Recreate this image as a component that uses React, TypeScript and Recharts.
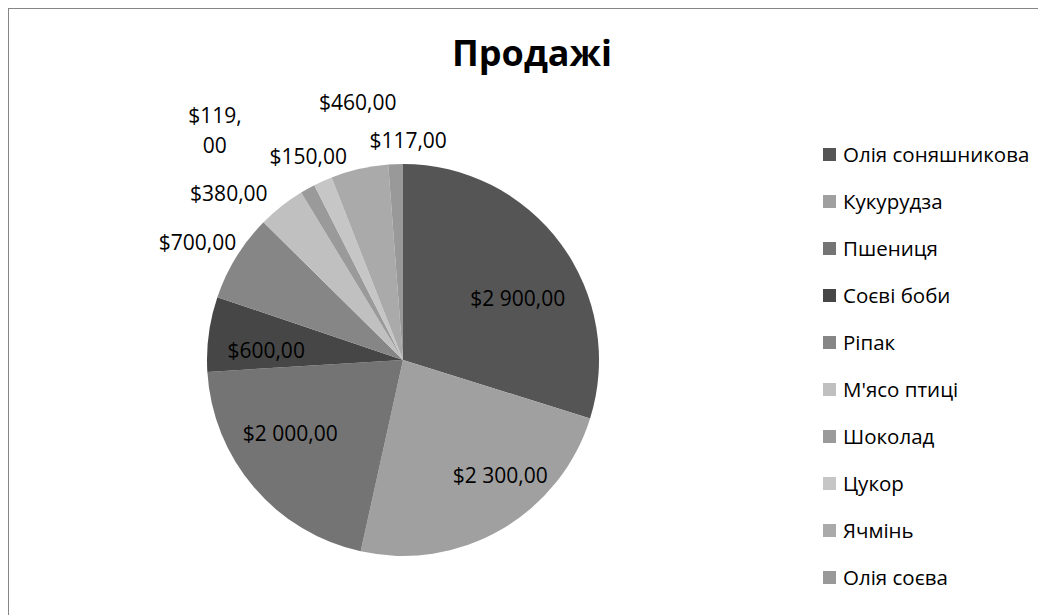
import React from 'react';
import { PieChart, Pie, Cell, Legend } from 'recharts';

const categories = [
  'Олія соняшникова',
  'Кукурудза',
  'Пшениця',
  'Соєві боби',
  'Ріпак',
  "М'ясо птиці",
  'Шоколад',
  'Цукор',
  'Ячмінь',
  'Олія соєва',
];
const sales = [2900, 2300, 2000, 600, 700, 380, 119, 150, 460, 117];
const colors = ['#555555', '#a0a0a0', '#747474', '#464646', '#868686', '#c0c0c0', '#9a9a9a', '#c6c6c6', '#aaaaaa', '#999999'];

const data = categories.map((name, i) => ({ name, value: sales[i] }));

// label placement relative to each slice: [angle shift (deg, clockwise), radius factor]
const labelLayout: [number, number][] = [
  [8, 0.665],
  [-10, 0.77],
  [7.6, 0.685],
  [-3.5, 0.7],
  [-1.7, 1.21],
  [-7.9, 1.23],
  [-10.2, 1.515],
  [-0.8, 1.146],
  [2.9, 1.335],
  [3.5, 1.125],
];

const FONT = '"Open Sans", "Noto Sans", sans-serif';

function fmt(v: number): string {
  const [int, dec] = v.toFixed(2).split('.');
  const grouped = int.replace(/\B(?=(\d{3})+(?!\d))/g, ' ');
  return '$' + grouped + ',' + dec;
}

const renderLabel = (p: any) => {
  const { cx, cy, midAngle, outerRadius, index, value } = p;
  const [shift, k] = labelLayout[index];
  const theta = ((90 - midAngle + shift) * Math.PI) / 180;
  const r = outerRadius * k;
  const x = cx + r * Math.sin(theta);
  const y = cy - r * Math.cos(theta);
  const text = fmt(value);
  if (index === 6) {
    const parts = text.split(',');
    return (
      <text x={x} y={y} textAnchor="middle" fontFamily={FONT} fontSize={21} fill="#000">
        <tspan x={x} dy={-15} dominantBaseline="central">{parts[0] + ','}</tspan>
        <tspan x={x} dy={30} dominantBaseline="central">{parts[1]}</tspan>
      </text>
    );
  }
  return (
    <text x={x} y={y} textAnchor="middle" dominantBaseline="central" fontFamily={FONT} fontSize={21} fill="#000">
      {text}
    </text>
  );
};

const LegendContent = () => (
  <div style={{ fontFamily: FONT, fontSize: 20.5, color: '#000' }}>
    {categories.map((name, i) => (
      <div key={name} style={{ height: 47, display: 'flex', alignItems: 'center', whiteSpace: 'nowrap' }}>
        <span style={{ width: 13, height: 13, background: colors[i], display: 'inline-block', marginRight: 7 }} />
        <span>{name}</span>
      </div>
    ))}
  </div>
);

export default function App() {
  return (
    <div
      style={{
        position: 'relative',
        width: 1048,
        height: 630,
        border: '1px solid #868686',
        boxSizing: 'border-box',
        background: '#fff',
        overflow: 'hidden',
      }}
    >
      <div
        style={{
          position: 'absolute',
          left: 0,
          width: 1046,
          top: 22,
          textAlign: 'center',
          fontFamily: FONT,
          fontWeight: 700,
          fontSize: 36,
          lineHeight: '44px',
          color: '#000',
        }}
      >
        Продажі
      </div>
      <div style={{ position: 'absolute', left: 0, top: 0 }}>
        <PieChart width={1046} height={628}>
          <Pie
            data={data}
            dataKey="value"
            nameKey="name"
            cx={389}
            cy={346}
            outerRadius={196}
            startAngle={90}
            endAngle={-270}
            stroke="none"
            isAnimationActive={false}
            label={renderLabel}
            labelLine={false}
          >
            {data.map((d, i) => (
              <Cell key={d.name} fill={colors[i]} stroke="none" />
            ))}
          </Pie>
          <Legend
            layout="vertical"
            align="right"
            verticalAlign="top"
            content={<LegendContent />}
            wrapperStyle={{ position: 'absolute', left: 814, top: 121.5, width: 230 }}
          />
        </PieChart>
      </div>
    </div>
  );
}
